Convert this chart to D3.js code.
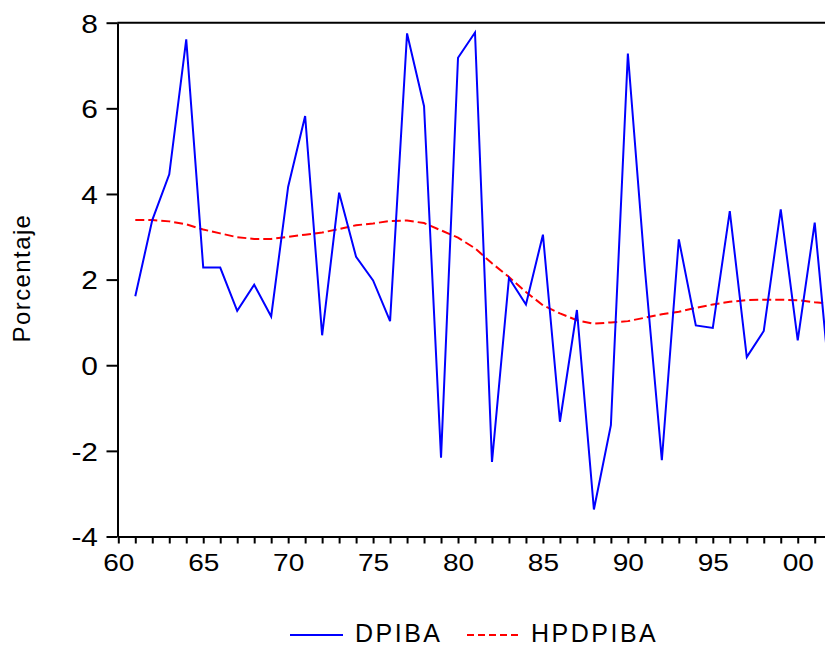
<!DOCTYPE html>
<html>
<head>
<meta charset="utf-8">
<script src="https://cdn.jsdelivr.net/npm/d3@7"></script>
<style>
  body { margin: 0; background: #fff; }
  svg { display: block; }
  text { font-family: "Liberation Sans", Arial, sans-serif; fill: #000; }
</style>
</head>
<body>
<div id="plot"></div>
<script>
// años 1961-2002
var years = d3.range(1961, 2003);

var dpiba = [1.61, 3.39, 4.46, 7.61, 2.28, 2.28, 1.27, 1.88, 1.14, 4.17,
             5.82, 0.70, 4.03, 2.53, 1.98, 1.03, 7.75, 6.05, -2.16, 7.18,
             7.77, -2.26, 2.04, 1.42, 3.05, -1.32, 1.29, -3.37, -1.40, 7.28,
             2.26, -2.22, 2.94, 0.93, 0.87, 3.60, 0.19, 0.80, 3.64, 0.58,
             3.33, -0.90];

var hpdpiba = [3.39, 3.39, 3.36, 3.29, 3.17, 3.08, 2.99, 2.95, 2.95, 3.00,
               3.05, 3.10, 3.18, 3.27, 3.31, 3.37, 3.38, 3.32, 3.15, 2.98,
               2.73, 2.38, 2.06, 1.71, 1.40, 1.21, 1.05, 0.97, 1.00, 1.03,
               1.11, 1.19, 1.25, 1.34, 1.42, 1.48, 1.52, 1.53, 1.53, 1.52,
               1.47, 1.44];

var yTicks = [-4, -2, 0, 2, 4, 6, 8];
var seriesNames = ["DPIBA", "HPDPIBA"];

var width = 825, height = 648;
var plotLeft = 118.3, plotRight = 831.7, plotTop = 22.7, plotBottom = 536.5;

var svg = d3.select("#plot")
  .append("svg")
  .attr("width", width)
  .attr("height", height);

var x = d3.scaleLinear().domain([1960, 2002]).range([plotLeft, plotRight]);
var y = d3.scaleLinear().domain([-4, 8]).range([plotBottom, plotTop]);

svg.append("clipPath").attr("id", "clip")
  .append("rect")
  .attr("x", plotLeft).attr("y", plotTop - 2)
  .attr("width", plotRight - plotLeft).attr("height", plotBottom - plotTop + 4);

var pts1 = years.map(function (d, i) { return [d, dpiba[i]]; });
var pts2 = years.map(function (d, i) { return [d, hpdpiba[i]]; });

var line = d3.line()
  .x(function (d) { return x(d[0]); })
  .y(function (d) { return y(d[1]); });

var g = svg.append("g").attr("clip-path", "url(#clip)");

g.append("path")
  .datum(pts2)
  .attr("fill", "none")
  .attr("stroke", "#ff0000")
  .attr("stroke-width", 2)
  .attr("stroke-dasharray", "9,4")
  .attr("d", line);

g.append("path")
  .datum(pts1)
  .attr("fill", "none")
  .attr("stroke", "#0000ff")
  .attr("stroke-width", 2)
  .attr("d", line);

// marco superior
svg.append("line")
  .attr("x1", plotLeft - 1).attr("x2", plotRight)
  .attr("y1", plotTop).attr("y2", plotTop)
  .attr("stroke", "#000").attr("stroke-width", 2);

// eje y
var yAxis = svg.append("g")
  .attr("transform", "translate(" + (plotLeft - 0.8) + ",0)")
  .call(d3.axisLeft(y)
    .tickValues(yTicks)
    .tickSize(11)
    .tickSizeOuter(0)
    .tickPadding(6)
    .tickFormat(function (d) { return String(d); }));

yAxis.selectAll("text")
  .style("font-size", "26px")
  .attr("dy", "0.36em")
  .attr("transform", "scale(1.15,1)");

// eje x
var xAxis = svg.append("g")
  .attr("transform", "translate(0," + plotBottom + ")")
  .call(d3.axisBottom(x)
    .tickValues(d3.range(1960, 2003))
    .tickSize(7)
    .tickSizeOuter(0)
    .tickPadding(11)
    .tickFormat(function (d) { return d % 5 == 0 ? d3.format("02d")(d % 100) : ""; }));

xAxis.selectAll("text")
  .style("font-size", "23px")
  .attr("transform", "scale(1.22,1)");

svg.selectAll(".domain, .tick line")
  .attr("stroke", "#000")
  .attr("stroke-width", 2);

// etiqueta eje
svg.append("text")
  .attr("transform", "translate(30,278) rotate(-90)")
  .attr("text-anchor", "middle")
  .style("font-size", "24px")
  .style("letter-spacing", "1.4px")
  .text("Porcentaje");

// leyenda
var legend = svg.append("g");
legend.append("line")
  .attr("x1", 290).attr("x2", 343).attr("y1", 635).attr("y2", 635)
  .attr("stroke", "#0000ff").attr("stroke-width", 2);
legend.append("text")
  .attr("x", 355).attr("y", 642)
  .style("font-size", "25px")
  .style("letter-spacing", "2.5px")
  .text(seriesNames[0]);
legend.append("line")
  .attr("x1", 467).attr("x2", 521).attr("y1", 635).attr("y2", 635)
  .attr("stroke", "#ff0000").attr("stroke-width", 2)
  .attr("stroke-dasharray", "7,4");
legend.append("text")
  .attr("x", 531).attr("y", 642)
  .style("font-size", "25px")
  .style("letter-spacing", "2.5px")
  .text(seriesNames[1]);
</script>
</body>
</html>
